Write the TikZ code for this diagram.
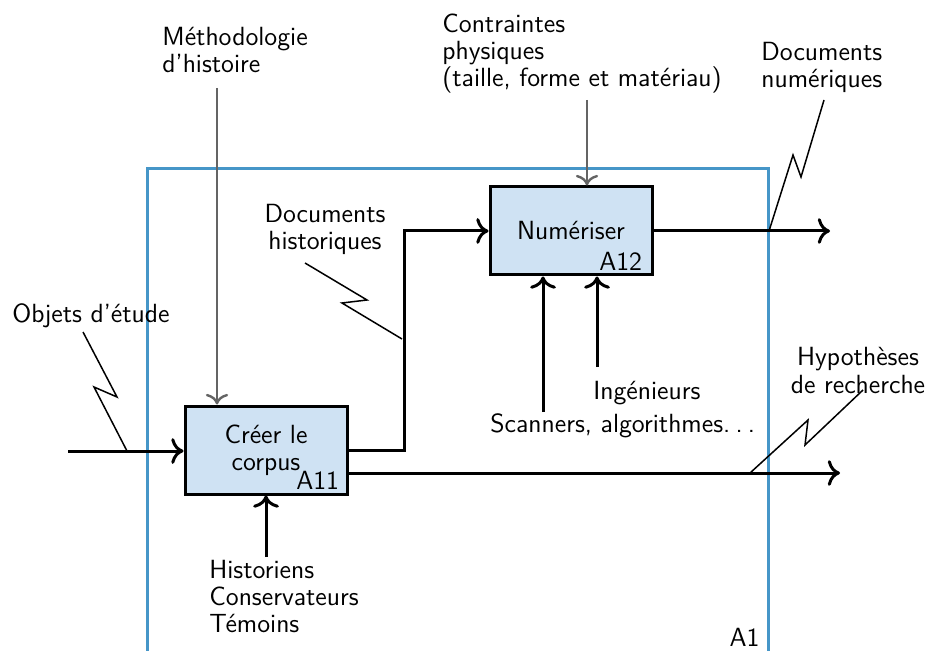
\documentclass[tikz,border=0pt]{standalone}
\usetikzlibrary{positioning,arrows.meta}
\definecolor{cadre}{RGB}{70,150,200}
\definecolor{boite}{RGB}{207,226,243}
\definecolor{gris}{RGB}{100,100,100}
\begin{document}
\begin{tikzpicture}[x=.5pt, y=-.5pt, font=\fontsize{13.15}{13.5}\selectfont\sffamily, >={To[scale=1.25]},
	activite/.style={draw, line width=1.5pt, fill=boite, minimum width=81pt, minimum height=44pt, align=center},
	fleche/.style={->, line width=1.5pt},
	controle/.style={->, line width=1.2pt, gris},
	eclair/.style={line width=.75pt},
	texte/.style={inner sep=0pt, align=left}]
	\useasboundingbox (0,0) rectangle (929,651);
	% cadre A1
	\draw[cadre, line width=1.5pt] (147,651) |- (768,169) -- (768,651);
	\node[texte, anchor=base east] (a1) at (760,646) {A1};
	% activites
	\node[activite] (a11) at (266,450) {Cr\'eer le\\corpus};
	\node[activite] (a12) at (571,231) {Num\'eriser};
	\node[texte, anchor=base east] at ([shift={(-9,-6)}]a11.south east) {A11};
	\node[texte, anchor=base east] at ([shift={(-11,-6)}]a12.south east) {A12};
	% bouts libres
	\coordinate (in) at (68,451);
	\coordinate (o1) at (830,231);
	\coordinate (o2) at (840,473);
	\coordinate (c1) at (217,88);
	\coordinate (c2) at (587,100);
	\coordinate (m1) at (266,557);
	\coordinate (m2) at (543,412);
	\coordinate (m3) at (597,367);
	% entrees, sorties
	\draw[fleche] (in) -- (in -| a11.west);
	\draw[fleche] (a11.east) -- ++(56,0) |- (a12.west);
	\draw[fleche] (o2 -| a11.east) -- (o2);
	\draw[fleche] (a12.east) -- (o1);
	% controles
	\draw[controle] (c1) -- (c1 |- a11.north);
	\draw[controle] (c2) -- (c2 |- a12.north);
	% mecanismes
	\draw[fleche] (m1) -- (m1 |- a11.south);
	\foreach \m in {m2,m3} \draw[fleche] (\m) -- (\m |- a12.south);
	% textes (base = derniere ligne)
	\node[texte, anchor=base west] (obj) at (12,323) {Objets d'\'etude};
	\node[texte, anchor=base west] (meth) at (162,73) {M\'ethodologie\\d'histoire};
	\node[texte, anchor=base west] (contr) at (442,87) {Contraintes\\physiques\\(taille, forme et mat\'eriau)};
	\node[texte, anchor=base west] (dnum) at (761,88) {Documents\\num\'eriques};
	\node[texte, align=center, anchor=base] (dhist) at (325,250) {Documents\\historiques};
	\node[texte, align=center, anchor=base] (hyp) at (858,393) {Hypoth\`eses\\de recherche};
	\node[texte, anchor=base west] (ing) at (593,399) {Ing\'enieurs};
	\node[texte, anchor=base west] (scan) at (490,432) {Scanners, algorithmes.\kern.2em.\kern.2em.};
	\node[texte, anchor=base west] (hist) at (209,632) {Historiens\\Conservateurs\\T\'emoins};
	% eclairs
	\draw[eclair] (83,332) -- (117,397) -- (94,387) -- (127,451);
	\draw[eclair] (305,263) -- (367,300) -- (342,303) -- (402,339);
	\draw[eclair] (863,390) -- (805,445) -- (808,420) -- (750,473);
	\draw[eclair] (824,100) -- (801,177) -- (793,155) -- (769,231);
\end{tikzpicture}
\end{document}
